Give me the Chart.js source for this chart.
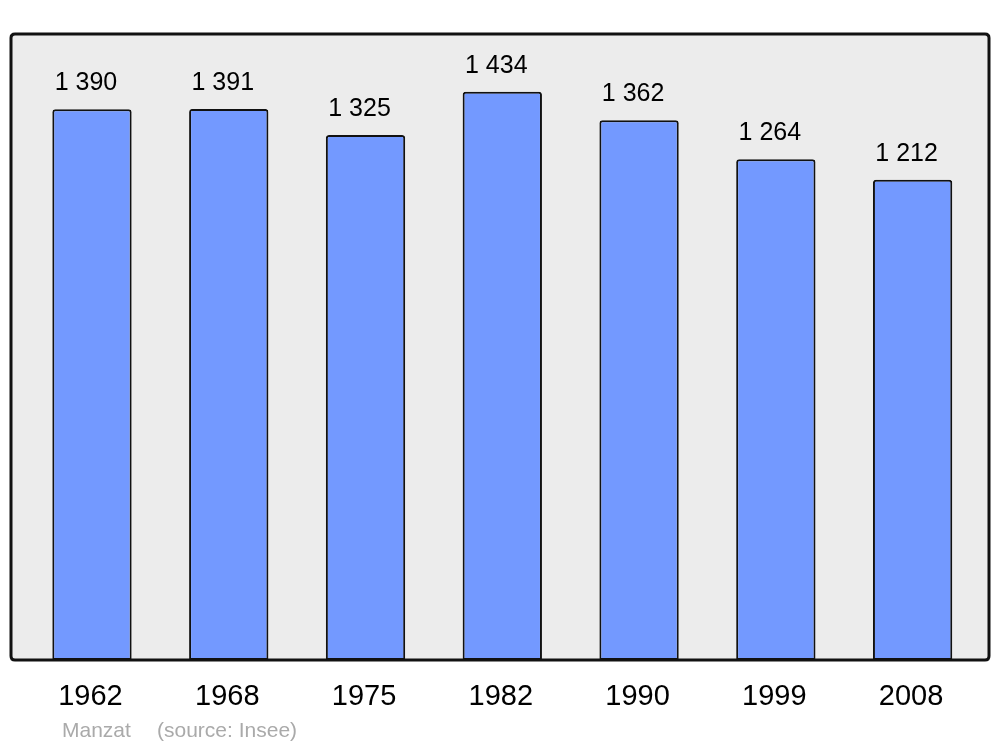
<!DOCTYPE html>
<html><head><meta charset="utf-8">
<script src="https://cdn.jsdelivr.net/npm/chart.js@4/dist/chart.umd.min.js"></script>
<style>html,body{margin:0;padding:0;background:#fff;}canvas{display:block;}</style>
</head><body>
<canvas id="c" width="1000" height="747"></canvas>
<script>
const years = ['1962','1968','1975','1982','1990','1999','2008'];
const population = [1390,1391,1325,1434,1362,1264,1212];
const valueLabels = ['1 390','1 391','1 325','1 434','1 362','1 264','1 212'];
const footerName = 'Manzat';
const footerSource = '(source: Insee)';

const FONT = '"Liberation Sans", Arial, sans-serif';

function rrect(ctx,x,y,w,h,r){
  ctx.beginPath();
  ctx.moveTo(x+r,y);ctx.lineTo(x+w-r,y);ctx.quadraticCurveTo(x+w,y,x+w,y+r);
  ctx.lineTo(x+w,y+h-r);ctx.quadraticCurveTo(x+w,y+h,x+w-r,y+h);
  ctx.lineTo(x+r,y+h);ctx.quadraticCurveTo(x,y+h,x,y+h-r);
  ctx.lineTo(x,y+r);ctx.quadraticCurveTo(x,y,x+r,y);ctx.closePath();
}

const framePlugin = {
  id:'frame',
  beforeDatasetsDraw(chart){
    const ctx=chart.ctx, a=chart.chartArea;
    ctx.save();
    rrect(ctx,11,a.top,978,a.bottom-a.top,4);
    ctx.fillStyle='#ececec';ctx.fill();
    ctx.restore();
  },
  afterDatasetsDraw(chart){
    const ctx=chart.ctx, a=chart.chartArea;
    ctx.save();
    rrect(ctx,11,a.top,978,a.bottom-a.top,4);
    ctx.lineWidth=3;ctx.strokeStyle='#111';ctx.stroke();
    // value labels
    const meta=chart.getDatasetMeta(0);
    ctx.fillStyle='#000';ctx.textAlign='center';ctx.textBaseline='alphabetic';
    ctx.font='25px '+FONT;
    meta.data.forEach((bar,i)=>{ctx.fillText(valueLabels[i],bar.x-6,bar.y-19);});
    // x labels
    const xs=chart.scales.x;
    ctx.font='29px '+FONT;
    years.forEach((y,i)=>{ctx.fillText(y,xs.getPixelForValue(i)-1.5,705);});
    // footer
    ctx.fillStyle='#aaaaaa';ctx.textAlign='left';ctx.font='21px '+FONT;
    ctx.fillText(footerName,62,737);
    ctx.fillText(footerSource,157,737);
    ctx.restore();
  }
};

new Chart(document.getElementById('c'),{
  type:'bar',
  data:{labels:years,datasets:[{
    data:population,
    backgroundColor:'#7399ff',
    borderColor:'#111',
    borderWidth:2,
    borderSkipped:false,
    borderRadius:{topLeft:3,topRight:3,bottomLeft:0,bottomRight:0},
    categoryPercentage:1,
    barPercentage:0.58
  }]},
  options:{
    responsive:false,animation:false,
    layout:{padding:{left:23.6,right:19,top:34,bottom:87}},
    plugins:{legend:{display:false},tooltip:{enabled:false}},
    scales:{
      x:{display:false},
      y:{display:false,min:0,max:1580}
    }
  },
  plugins:[framePlugin]
});
</script>
</body></html>
